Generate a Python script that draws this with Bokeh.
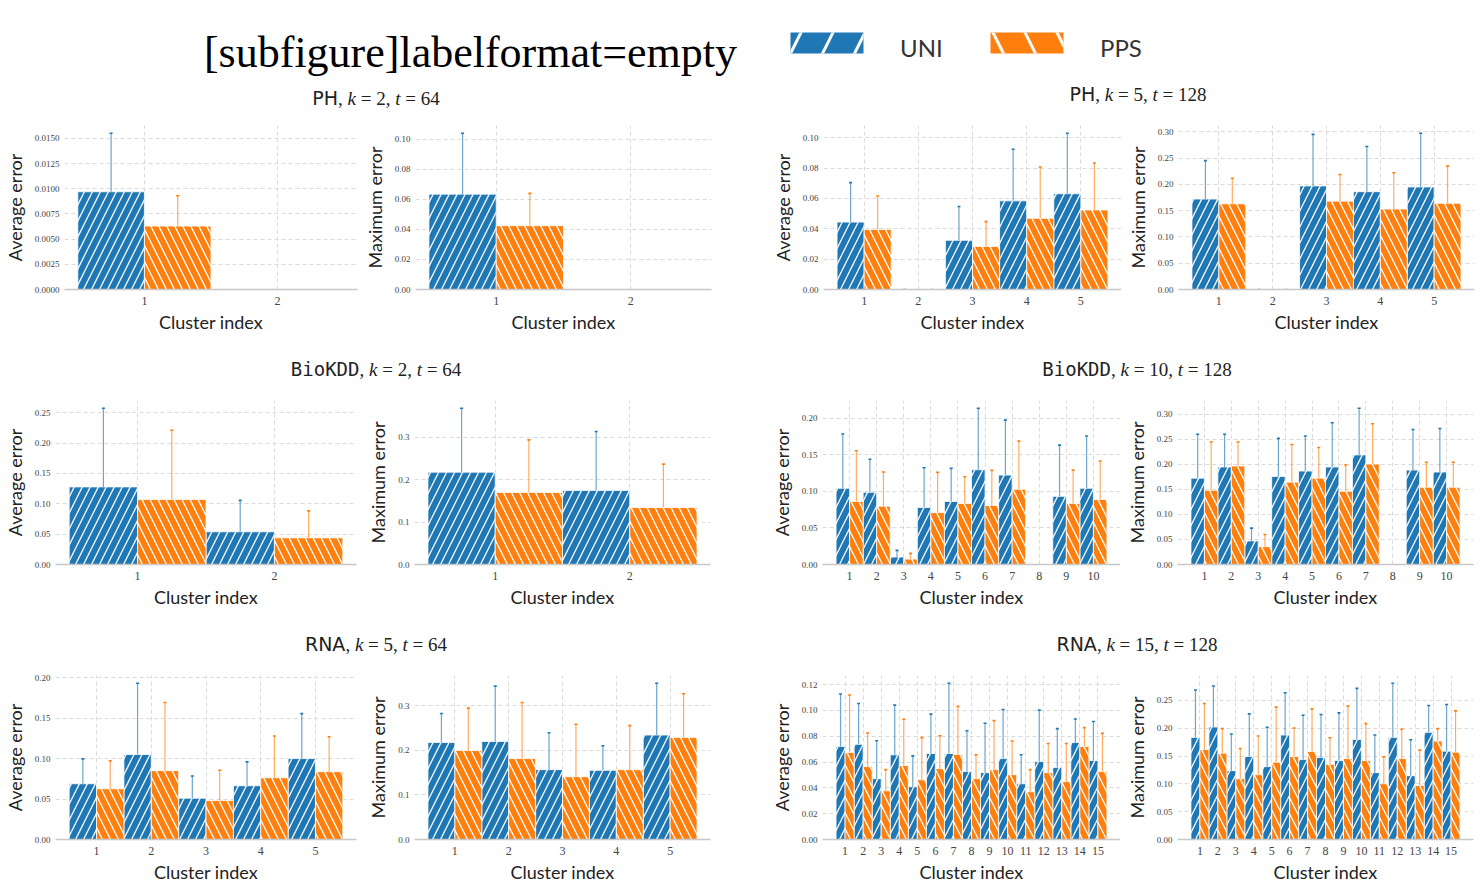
import math

import numpy as np
from bokeh.core.properties import value
from bokeh.embed import file_html
from bokeh.layouts import column, row
from bokeh.models import ColumnDataSource, Div, FixedTicker, PrintfTickFormatter, Range1d
from bokeh.plotting import figure
from bokeh.resources import INLINE

nan = float("nan")

# ---------------------------------------------------------------- data
series_names = ["UNI", "PPS"]
header_text = "[subfigure]labelformat=empty"

# PH, k = 2, t = 64
ph_k2_clusters = [1, 2]
ph_k2_avg_uni = [0.0097, nan]
ph_k2_avg_uni_hi = [0.0155, nan]
ph_k2_avg_pps = [0.0063, nan]
ph_k2_avg_pps_hi = [0.0093, nan]
ph_k2_max_uni = [0.0635, nan]
ph_k2_max_uni_hi = [0.104, nan]
ph_k2_max_pps = [0.0425, nan]
ph_k2_max_pps_hi = [0.064, nan]

# PH, k = 5, t = 128
ph_k5_clusters = [1, 2, 3, 4, 5]
ph_k5_avg_uni = [0.0444, 0.0, 0.0324, 0.0584, 0.0631]
ph_k5_avg_uni_hi = [0.0704, 0.0, 0.0547, 0.0924, 0.1029]
ph_k5_avg_pps = [0.0396, 0.0, 0.0284, 0.0469, 0.0524]
ph_k5_avg_pps_hi = [0.0616, 0.0, 0.0447, 0.0807, 0.0833]
ph_k5_max_uni = [0.172, 0.0, 0.197, 0.186, 0.195]
ph_k5_max_uni_hi = [0.245, 0.0, 0.295, 0.272, 0.297]
ph_k5_max_pps = [0.163, 0.0, 0.168, 0.153, 0.164]
ph_k5_max_pps_hi = [0.2115, 0.0, 0.2186, 0.222, 0.2346]

# BioKDD, k = 2, t = 64
bio_k2_clusters = [1, 2]
bio_k2_avg_uni = [0.1278, 0.0539]
bio_k2_avg_uni_hi = [0.2572, 0.1056]
bio_k2_avg_pps = [0.1072, 0.0439]
bio_k2_avg_pps_hi = [0.2211, 0.0883]
bio_k2_max_uni = [0.2175, 0.1746]
bio_k2_max_uni_hi = [0.368, 0.3135]
bio_k2_max_pps = [0.1698, 0.1341]
bio_k2_max_pps_hi = [0.2937, 0.2365]

# BioKDD, k = 10, t = 128
bio_k10_clusters = [1, 2, 3, 4, 5, 6, 7, 8, 9, 10]
bio_k10_avg_uni = [0.1044, 0.0988, 0.0102, 0.0781, 0.0864, 0.1298, 0.1224, nan, 0.0933, 0.1044]
bio_k10_avg_uni_hi = [0.1788, 0.1441, 0.0194, 0.1326, 0.1316, 0.2139, 0.1977, nan, 0.1635, 0.176]
bio_k10_avg_pps = [0.0864, 0.0799, 0.0074, 0.0711, 0.0836, 0.0808, 0.103, nan, 0.0836, 0.0891]
bio_k10_avg_pps_hi = [0.1557, 0.1266, 0.0152, 0.1261, 0.1201, 0.1289, 0.169, nan, 0.1293, 0.1418]
bio_k10_max_uni = [0.1726, 0.1949, 0.0472, 0.176, 0.1868, 0.1949, 0.2191, nan, 0.1888, 0.1848]
bio_k10_max_uni_hi = [0.2603, 0.2603, 0.0728, 0.2522, 0.2569, 0.2832, 0.3122, nan, 0.2697, 0.2717]
bio_k10_max_pps = [0.1483, 0.1969, 0.0357, 0.1645, 0.1726, 0.1463, 0.2009, nan, 0.1544, 0.1544]
bio_k10_max_pps_hi = [0.2448, 0.2448, 0.06, 0.24, 0.234, 0.1989, 0.2812, nan, 0.2043, 0.2043]

# RNA, k = 5, t = 64
rna_k5_clusters = [1, 2, 3, 4, 5]
rna_k5_avg_uni = [0.0689, 0.105, 0.051, 0.0664, 0.100]
rna_k5_avg_uni_hi = [0.0996, 0.193, 0.0784, 0.0959, 0.1556]
rna_k5_avg_pps = [0.0627, 0.0851, 0.0481, 0.0763, 0.0838]
rna_k5_avg_pps_hi = [0.0971, 0.1693, 0.0855, 0.1278, 0.127]
rna_k5_max_uni = [0.2178, 0.22, 0.1567, 0.1552, 0.2344]
rna_k5_max_uni_hi = [0.2826, 0.344, 0.2396, 0.2102, 0.3504]
rna_k5_max_pps = [0.1997, 0.1816, 0.1409, 0.1567, 0.2291]
rna_k5_max_pps_hi = [0.2947, 0.3075, 0.2585, 0.2555, 0.3271]

# RNA, k = 15, t = 128
rna_k15_clusters = list(range(1, 16))
rna_k15_avg_uni = [0.0721, 0.0737, 0.0471, 0.0656, 0.0409, 0.0666, 0.0666, 0.0526,
                   0.0518, 0.0627, 0.0432, 0.0604, 0.0557, 0.0752, 0.0612]
rna_k15_avg_uni_hi = [0.1127, 0.1054, 0.0765, 0.1041, 0.0648, 0.0971, 0.121, 0.0843,
                      0.0901, 0.1007, 0.0656, 0.1002, 0.0859, 0.0934, 0.0914]
rna_k15_avg_pps = [0.0674, 0.0565, 0.0377, 0.0573, 0.0463, 0.0549, 0.0659, 0.0471,
                   0.0541, 0.0502, 0.037, 0.0518, 0.0448, 0.0721, 0.0526]
rna_k15_avg_pps_hi = [0.1119, 0.0825, 0.0541, 0.0932, 0.0789, 0.0804, 0.1031, 0.0656,
                      0.0921, 0.0763, 0.0541, 0.0744, 0.0744, 0.0867, 0.0822]
rna_k15_max_uni = [0.1836, 0.2023, 0.1238, 0.1492, 0.131, 0.1878, 0.1437, 0.1473,
                   0.1419, 0.18, 0.1202, 0.1836, 0.1147, 0.1926, 0.1588]
rna_k15_max_uni_hi = [0.2687, 0.276, 0.1896, 0.2258, 0.2017, 0.2639, 0.2234, 0.2246,
                      0.2277, 0.2717, 0.1878, 0.2808, 0.1793, 0.241, 0.2428]
rna_k15_max_pps = [0.1618, 0.1552, 0.1093, 0.1165, 0.1389, 0.1492, 0.1582, 0.1353,
                   0.1455, 0.1419, 0.1002, 0.1455, 0.0972, 0.1769, 0.157]
rna_k15_max_pps_hi = [0.2446, 0.1993, 0.1636, 0.186, 0.2379, 0.2005, 0.2349, 0.183,
                      0.2397, 0.2083, 0.1486, 0.1981, 0.1606, 0.1993, 0.2313]

# y tick positions for each panel
ph_k2_avg_ticks = [0.0, 0.0025, 0.005, 0.0075, 0.01, 0.0125, 0.015]
ph_k2_max_ticks = [0.0, 0.02, 0.04, 0.06, 0.08, 0.10]
ph_k5_avg_ticks = [0.0, 0.02, 0.04, 0.06, 0.08, 0.10]
ph_k5_max_ticks = [0.0, 0.05, 0.10, 0.15, 0.20, 0.25, 0.30]
bio_k2_avg_ticks = [0.0, 0.05, 0.10, 0.15, 0.20, 0.25]
bio_k2_max_ticks = [0.0, 0.1, 0.2, 0.3]
bio_k10_avg_ticks = [0.0, 0.05, 0.10, 0.15, 0.20]
bio_k10_max_ticks = [0.0, 0.05, 0.10, 0.15, 0.20, 0.25, 0.30]
rna_k5_avg_ticks = [0.0, 0.05, 0.10, 0.15, 0.20]
rna_k5_max_ticks = [0.0, 0.1, 0.2, 0.3]
rna_k15_avg_ticks = [0.0, 0.02, 0.04, 0.06, 0.08, 0.10, 0.12]
rna_k15_max_ticks = [0.0, 0.05, 0.10, 0.15, 0.20, 0.25]

# ---------------------------------------------------------------- style
BLUE = "#1f77b4"
ORANGE = "#ff7f0e"
GRID = "#dadada"
AXIS_FONT = "Lato"
TICK_FONT = "Liberation Serif"
FRAME_H = 164


def series_source(xs, tops, his):
    keep = [i for i, t in enumerate(tops) if not math.isnan(t)]
    return ColumnDataSource(dict(
        x=[xs[i] for i in keep],
        top=[tops[i] for i in keep],
        hi=[his[i] for i in keep],
    ))


def panel(clusters, uni, uni_hi, pps, pps_hi, ylabel, yticks, yfmt,
          left, frame_w, right, bottom):
    lo_edge, hi_edge = min(clusters) - 0.5, max(clusters) + 0.5
    pad = 0.05 * (hi_edge - lo_edge)
    ymax = 1.05 * float(np.nanmax(uni_hi + pps_hi))

    p = figure(frame_width=frame_w, frame_height=FRAME_H,
               x_range=Range1d(lo_edge - pad, hi_edge + pad),
               y_range=Range1d(0, ymax),
               min_border_left=left, min_border_right=right,
               min_border_top=15, min_border_bottom=bottom,
               output_backend="svg", toolbar_location=None)
    p.outline_line_color = None
    p.background_fill_color = "white"
    p.border_fill_color = "white"

    for xs_off, vals, his, color, hatch in (
        (-0.25, uni, uni_hi, BLUE, "/"),
        (0.25, pps, pps_hi, ORANGE, "\\"),
    ):
        src = series_source([c + xs_off for c in clusters], vals, his)
        p.vbar(x="x", top="top", bottom=0, width=0.5, source=src,
               fill_color=color, line_color="white", line_width=0.8,
               hatch_pattern=hatch, hatch_color="white",
               hatch_weight=1.3, hatch_scale=16)
        p.segment(x0="x", y0="top", x1="x", y1="hi", source=src,
                  line_color=color, line_alpha=0.65, line_width=1.2)
        p.scatter(x="x", y="hi", source=src, marker="dash", size=3,
                  line_color=color, line_width=1.6)

    p.xaxis.ticker = FixedTicker(ticks=clusters)
    p.yaxis.ticker = FixedTicker(ticks=yticks)
    p.yaxis.formatter = PrintfTickFormatter(format=yfmt)

    p.xaxis.axis_label = "Cluster index"
    p.yaxis.axis_label = ylabel
    for ax in (p.xaxis[0], p.yaxis[0]):
        ax.axis_label_text_font = AXIS_FONT
        ax.axis_label_text_font_size = "18px"
        ax.axis_label_text_font_style = "normal"
        ax.axis_label_text_color = "#222222"
        ax.major_label_text_font = TICK_FONT
        ax.major_label_text_color = "#444444"
        ax.major_tick_line_color = None
        ax.minor_tick_line_color = None
        ax.major_tick_out = 0
        ax.major_tick_in = 0
        ax.minor_tick_out = 0
        ax.minor_tick_in = 0
    p.xaxis.major_label_text_font_size = "12px"
    p.yaxis.major_label_text_font_size = "9px"
    p.xaxis.major_label_standoff = 7
    p.xaxis.axis_label_standoff = 3
    p.yaxis.major_label_standoff = 5
    p.yaxis.axis_label_standoff = 6
    p.xaxis.axis_line_color = "#c8c8c8"
    p.xaxis.axis_line_width = 1.5
    p.yaxis.axis_line_color = None

    p.grid.grid_line_color = GRID
    p.grid.grid_line_dash = "4 3"
    p.grid.grid_line_width = 1
    return p


def title_div(name, name_font, k, t, width, shift, drop=0):
    serif = "'Liberation Serif', serif"
    html = (
        f"<div style=\"width:{width}px;height:30px;display:flex;align-items:center;"
        f"justify-content:center;padding-left:{shift}px;padding-top:{drop}px;"
        f"box-sizing:border-box;font-size:19px;color:#222;white-space:nowrap\">"
        f"<span style=\"font-family:{name_font}\">{name}</span>"
        f"<span style=\"font-family:{serif}\">,&nbsp;<i>k</i>&nbsp;=&nbsp;{k},"
        f"&nbsp;<i>t</i>&nbsp;=&nbsp;{t}</span></div>"
    )
    return Div(text=html, width=width, height=30, margin=0)


SANS = "'DejaVu Sans', sans-serif"
MONO = "'DejaVu Sans Mono', monospace"


def pair_row(left_spec, right_spec, bottom, a_left, left_drop=0):
    (lname, lfont, lk, lt, lA, lB) = left_spec
    (rname, rfont, rk, rt, rA, rB) = right_spec
    fa = panel(*lA, left=a_left, frame_w=356 - a_left, right=1, bottom=bottom)
    fb = panel(*lB, left=57, frame_w=296, right=30, bottom=bottom)
    fc = panel(*rA, left=82, frame_w=298, right=0, bottom=bottom)
    fd = panel(*rB, left=57, frame_w=296, right=10, bottom=bottom)
    left_col = column(title_div(lname, lfont, lk, lt, 740, 12, left_drop), row(fa, fb))
    right_col = column(title_div(rname, rfont, rk, rt, 743, 51), row(fc, fd))
    return row(left_col, right_col)


row1 = pair_row(
    ("PH", SANS, 2, 64,
     (ph_k2_clusters, ph_k2_avg_uni, ph_k2_avg_uni_hi, ph_k2_avg_pps, ph_k2_avg_pps_hi,
      "Average error", ph_k2_avg_ticks, "%.4f"),
     (ph_k2_clusters, ph_k2_max_uni, ph_k2_max_uni_hi, ph_k2_max_pps, ph_k2_max_pps_hi,
      "Maximum error", ph_k2_max_ticks, "%.2f")),
    ("PH", SANS, 5, 128,
     (ph_k5_clusters, ph_k5_avg_uni, ph_k5_avg_uni_hi, ph_k5_avg_pps, ph_k5_avg_pps_hi,
      "Average error", ph_k5_avg_ticks, "%.2f"),
     (ph_k5_clusters, ph_k5_max_uni, ph_k5_max_uni_hi, ph_k5_max_pps, ph_k5_max_pps_hi,
      "Maximum error", ph_k5_max_ticks, "%.2f")),
    bottom=66, a_left=63, left_drop=8)

row2 = pair_row(
    ("BioKDD", MONO, 2, 64,
     (bio_k2_clusters, bio_k2_avg_uni, bio_k2_avg_uni_hi, bio_k2_avg_pps, bio_k2_avg_pps_hi,
      "Average error", bio_k2_avg_ticks, "%.2f"),
     (bio_k2_clusters, bio_k2_max_uni, bio_k2_max_uni_hi, bio_k2_max_pps, bio_k2_max_pps_hi,
      "Maximum error", bio_k2_max_ticks, "%.1f")),
    ("BioKDD", MONO, 10, 128,
     (bio_k10_clusters, bio_k10_avg_uni, bio_k10_avg_uni_hi, bio_k10_avg_pps, bio_k10_avg_pps_hi,
      "Average error", bio_k10_avg_ticks, "%.2f"),
     (bio_k10_clusters, bio_k10_max_uni, bio_k10_max_uni_hi, bio_k10_max_pps, bio_k10_max_pps_hi,
      "Maximum error", bio_k10_max_ticks, "%.2f")),
    bottom=66, a_left=55)

row3 = pair_row(
    ("RNA", SANS, 5, 64,
     (rna_k5_clusters, rna_k5_avg_uni, rna_k5_avg_uni_hi, rna_k5_avg_pps, rna_k5_avg_pps_hi,
      "Average error", rna_k5_avg_ticks, "%.2f"),
     (rna_k5_clusters, rna_k5_max_uni, rna_k5_max_uni_hi, rna_k5_max_pps, rna_k5_max_pps_hi,
      "Maximum error", rna_k5_max_ticks, "%.1f")),
    ("RNA", SANS, 15, 128,
     (rna_k15_clusters, rna_k15_avg_uni, rna_k15_avg_uni_hi, rna_k15_avg_pps, rna_k15_avg_pps_hi,
      "Average error", rna_k15_avg_ticks, "%.2f"),
     (rna_k15_clusters, rna_k15_max_uni, rna_k15_max_uni_hi, rna_k15_max_pps, rna_k15_max_pps_hi,
      "Maximum error", rna_k15_max_ticks, "%.2f")),
    bottom=52, a_left=55)

# ---------------------------------------------------------------- header with legend
header = figure(width=1483, height=80, x_range=Range1d(0, 1483), y_range=Range1d(80, 0),
                min_border=0, output_backend="svg", toolbar_location=None)
header.axis.visible = False
header.grid.visible = False
header.outline_line_color = None
header.text(x=[470], y=[52], text=[header_text], text_font=value("Liberation Serif"),
            text_font_size="44px", text_align="center", text_baseline="middle",
            text_color="black")
for sx, color, hatch, label in ((826.5, BLUE, "/", series_names[0]),
                                (1026.5, ORANGE, "\\", series_names[1])):
    header.rect(x=[sx], y=[42.5], width=73, height=21, fill_color=color, line_color=None,
                hatch_pattern=hatch, hatch_color="white", hatch_weight=3, hatch_scale=64)
    header.text(x=[sx + 73], y=[47], text=[label], text_font=value(AXIS_FONT),
                text_font_size="24px", text_baseline="middle", text_color="#333333")

layout = column(header, row1, row2, row3)
open("out.html", "w").write(file_html(layout, INLINE))
